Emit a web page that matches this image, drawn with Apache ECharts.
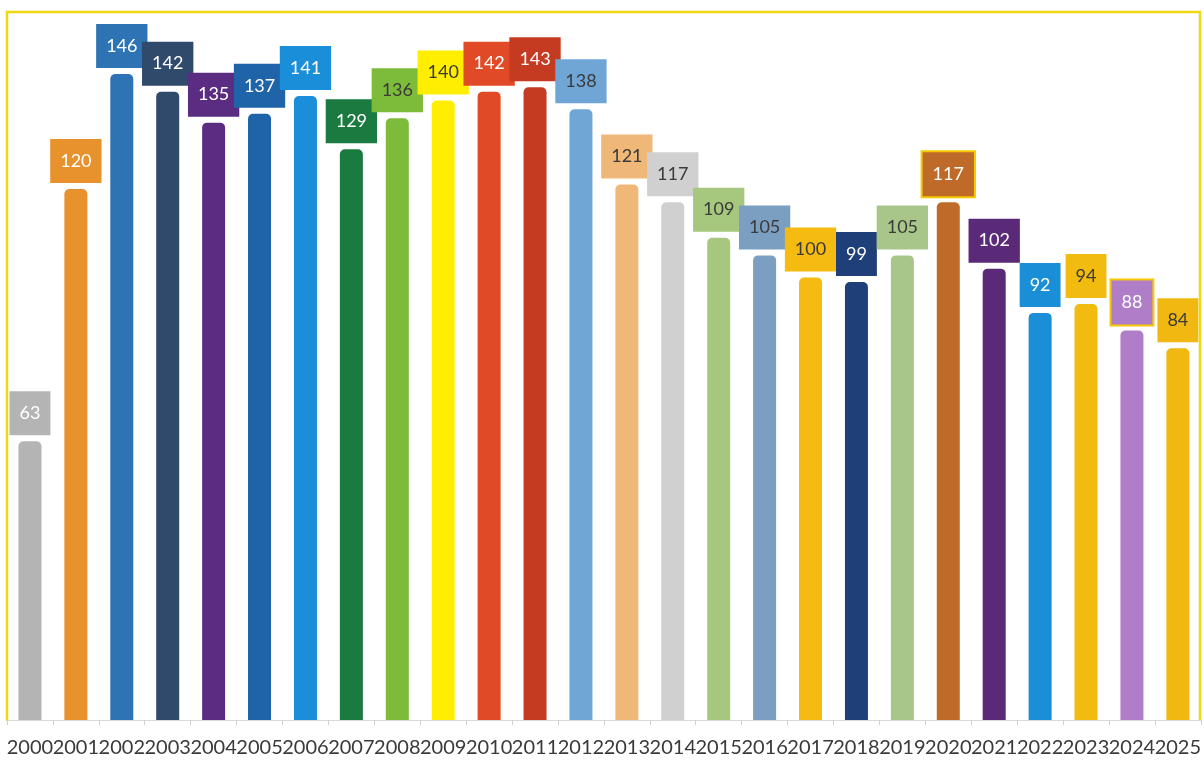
<!DOCTYPE html>
<html>
<head>
<meta charset="utf-8">
<script src="https://cdn.jsdelivr.net/npm/echarts@6/dist/echarts.min.js"></script>
<style>
  html, body { margin: 0; padding: 0; background: #fff; }
  #main { width: 1204px; height: 762px; }
</style>
</head>
<body>
<div id="main"></div>
<script>
var years = ['2000', '2001', '2002', '2003', '2004', '2005', '2006', '2007', '2008', '2009',
    '2010', '2011', '2012', '2013', '2014', '2015', '2016', '2017', '2018', '2019',
    '2020', '2021', '2022', '2023', '2024', '2025'];
var values = [63, 120, 146, 142, 135, 137, 141, 129, 136, 140,
    142, 143, 138, 121, 117, 109, 105, 100, 99, 105,
    117, 102, 92, 94, 88, 84];
var barColors = ['#b4b4b4', '#e8922e', '#2e74b5', '#2f4a6b', '#5b2d82', '#1f63a8', '#1a8ed8', '#1a7a40', '#7dbb3a', '#ffee00',
    '#e04a26', '#c43b22', '#6fa6d6', '#f0b878', '#d0d0d0', '#a6c87e', '#7a9fc0', '#f5bb10', '#1f3f78', '#a8c68a',
    '#c06a2a', '#5a2a78', '#1a8fd8', '#f2bb10', '#b07ec8', '#f0b810'];
// label text: w = white, d = dark
var labelInk = ['w', 'w', 'w', 'w', 'w', 'w', 'w', 'w', 'd', 'd',
    'w', 'w', 'd', 'd', 'd', 'd', 'd', 'd', 'w', 'd',
    'w', 'w', 'w', 'd', 'w', 'd'];
// years whose label box has a yellow outline
var outlined = ['2020', '2024'];

var chart = echarts.init(document.getElementById('main'));

var data = values.map(function (v, i) {
    var boxed = outlined.indexOf(years[i]) >= 0;
    return {
        value: v,
        itemStyle: {color: barColors[i]},
        label: {
            backgroundColor: barColors[i],
            color: labelInk[i] === 'w' ? '#ffffff' : '#3a3a3a',
            borderColor: boxed ? '#f5c800' : 'transparent',
            borderWidth: boxed ? 2 : 0
        }
    };
});

var option = {
    animation: false,
    backgroundColor: '#ffffff',
    graphic: [{
        type: 'polyline',
        silent: true,
        shape: {points: [[7, 721], [7, 12], [1200, 12], [1200, 721]]},
        style: {stroke: '#f0d810', lineWidth: 2.5, fill: null}
    }],
    grid: {left: 7, right: 0, top: 12, bottom: 42, containLabel: false},
    xAxis: {
        type: 'category',
        data: years,
        axisLine: {lineStyle: {color: '#d9d9d9', width: 1}},
        axisTick: {show: true, length: 5, lineStyle: {color: '#d0d0d0'}},
        axisLabel: {
            interval: 0,
            margin: 18,
            color: '#3a3a3a',
            fontFamily: 'Lato',
            fontSize: 20
        }
    },
    yAxis: {
        type: 'value',
        min: 0,
        max: 160,
        show: false,
        splitLine: {show: false}
    },
    series: [{
        type: 'bar',
        data: data,
        barWidth: 23,
        itemStyle: {borderRadius: [5, 5, 0, 0]},
        label: {
            show: true,
            position: 'top',
            distance: 6,
            fontFamily: 'Lato',
            fontSize: 18,
            padding: [13, 10, 13, 10]
        }
    }]
};

chart.setOption(option);
</script>
</body>
</html>
